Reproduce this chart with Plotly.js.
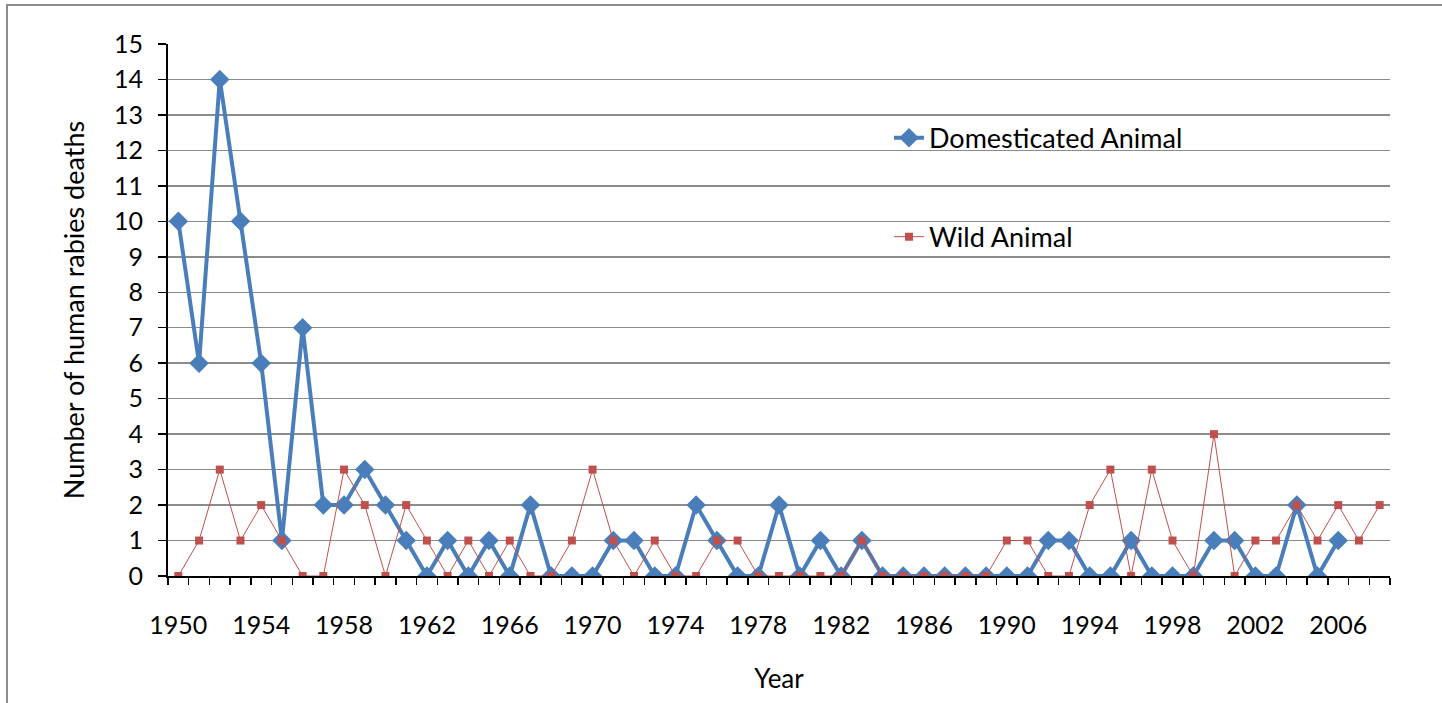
<!DOCTYPE html>
<html>
<head>
<meta charset="utf-8">
<script src="https://cdn.plot.ly/plotly-3.0.1.min.js"></script>
<style>
html,body{margin:0;padding:0;background:#fff;}
#chart{width:1442px;height:703px;}
</style>
</head>
<body>
<div id="chart"></div>
<script>
const domesticYears = [1950,1951,1952,1953,1954,1955,1956,1957,1958,1959,1960,1961,1962,1963,1964,1965,1966,1967,1968,1969,1970,1971,1972,1973,1974,1975,1976,1977,1978,1979,1980,1981,1982,1983,1984,1985,1986,1987,1988,1989,1990,1991,1992,1993,1994,1995,1996,1997,1998,1999,2000,2001,2002,2003,2004,2005,2006];
const domesticDeaths = [10,6,14,10,6,1,7,2,2,3,2,1,0,1,0,1,0,2,0,0,0,1,1,0,0,2,1,0,0,2,0,1,0,1,0,0,0,0,0,0,0,0,1,1,0,0,1,0,0,0,1,1,0,0,2,0,1];
const wildYears = [1950,1951,1952,1953,1954,1955,1956,1957,1958,1959,1960,1961,1962,1963,1964,1965,1966,1967,1968,1969,1970,1971,1972,1973,1974,1975,1976,1977,1978,1979,1980,1981,1982,1983,1984,1985,1986,1987,1988,1989,1990,1991,1992,1993,1994,1995,1996,1997,1998,1999,2000,2001,2002,2003,2004,2005,2006,2007,2008];
const wildDeaths = [0,1,3,1,2,1,0,0,3,2,0,2,1,0,1,0,1,0,0,1,3,1,0,1,0,0,1,1,0,0,0,0,0,1,0,0,0,0,0,0,1,1,0,0,2,3,0,3,1,0,4,0,1,1,2,1,2,1,2];
const xTickVals = [1950,1954,1958,1962,1966,1970,1974,1978,1982,1986,1990,1994,1998,2002,2006];
const xTickText = ["1950","1954","1958","1962","1966","1970","1974","1978","1982","1986","1990","1994","1998","2002","2006"];

const FONT = "Lato, 'Open Sans', sans-serif";

const traces = [
  {
    x: domesticYears, y: domesticDeaths, name: "Domesticated Animal",
    type: "scatter", mode: "lines+markers",
    line: {color: "#4A7EBB", width: 4},
    marker: {symbol: "diamond", size: 15, color: "#4A7EBB"},
    legend: "legend"
  },
  {
    x: wildYears, y: wildDeaths, name: "Wild Animal",
    type: "scatter", mode: "lines+markers",
    line: {color: "#C0504D", width: 1},
    marker: {symbol: "square", size: 8, color: "#C0504D"},
    legend: "legend2"
  }
];

const layout = {
  width: 1442, height: 703,
  margin: {l: 168, r: 52, t: 44, b: 127},
  paper_bgcolor: "#fff", plot_bgcolor: "#fff",
  font: {family: FONT, size: 25, color: "#000"},
  showlegend: true,
  legend: {x: 0.59, y: 0.823, xanchor: "left", yanchor: "middle", bgcolor: "rgba(0,0,0,0)", font: {family: FONT, size: 27}},
  legend2: {x: 0.59, y: 0.637, xanchor: "left", yanchor: "middle", bgcolor: "rgba(0,0,0,0)", font: {family: FONT, size: 27}},
  xaxis: {
    range: [1949.5, 2008.5],
    tickmode: "array", tickvals: xTickVals, ticktext: xTickText,
    ticks: "outside", ticklen: 26, tickcolor: "rgba(0,0,0,0)",
    showgrid: false, zeroline: false,
    showline: true, linecolor: "#000", linewidth: 2,
    minor: {tickmode: "linear", tick0: 1949.5, dtick: 1, ticks: "outside", ticklen: 7, tickwidth: 1.5, tickcolor: "#000", showgrid: false},
    tickfont: {family: FONT, size: 25},
    title: {text: "Year", font: {family: FONT, size: 26}, standoff: 32}
  },
  yaxis: {
    range: [0, 15], dtick: 1, tick0: 0,
    ticks: "outside", ticklen: 8, tickwidth: 1.5, tickcolor: "#000",
    ticklabelstandoff: 10,
    showgrid: true, gridcolor: "#8c8c8c", gridwidth: 1.5,
    zeroline: false,
    showline: true, linecolor: "#000", linewidth: 2,
    tickfont: {family: FONT, size: 25},
    title: {text: "Number of human rabies deaths", font: {family: FONT, size: 27}, standoff: 22}
  },
  shapes: [
    {type: "rect", xref: "paper", yref: "paper",
     x0: (7-168)/1222, x1: (1446-168)/1222, y0: (576-710)/532, y1: (576-5)/532,
     line: {color: "#8c8c8c", width: 2}, fillcolor: "rgba(0,0,0,0)", layer: "below"}
  ]
};

Plotly.newPlot("chart", traces, layout, {displayModeBar: false, staticPlot: true});
</script>
</body>
</html>
